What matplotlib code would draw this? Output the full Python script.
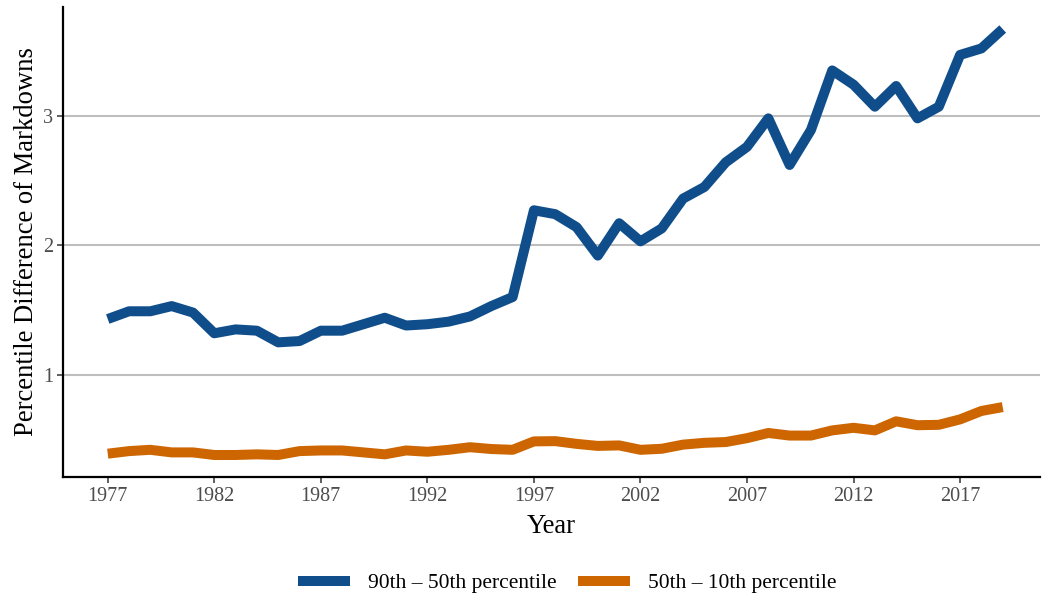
import numpy as np
import matplotlib.pyplot as plt

# -------------------------- Data --------------------------
years = list(range(1977, 2020))

# 90th - 50th percentile difference of markdowns
p90_p50 = [1.43, 1.49, 1.49, 1.53, 1.48, 1.32, 1.35, 1.34, 1.25, 1.26,
           1.34, 1.34, 1.39, 1.44, 1.38, 1.39, 1.41, 1.45, 1.53, 1.60,
           2.27, 2.24, 2.14, 1.92, 2.17, 2.03, 2.13, 2.36, 2.45, 2.64,
           2.76, 2.98, 2.62, 2.89, 3.35, 3.24, 3.07, 3.23, 2.98, 3.07,
           3.47, 3.52, 3.67]

# 50th - 10th percentile difference of markdowns
p50_p10 = [0.39, 0.41, 0.42, 0.40, 0.40, 0.38, 0.38, 0.385, 0.38, 0.41,
           0.415, 0.415, 0.40, 0.385, 0.415, 0.405, 0.42, 0.44, 0.426, 0.42,
           0.485, 0.487, 0.466, 0.45, 0.454, 0.42, 0.428, 0.46, 0.474, 0.48,
           0.51, 0.55, 0.53, 0.53, 0.57, 0.59, 0.57, 0.64, 0.61, 0.613,
           0.655, 0.72, 0.75]

series_labels = ["90th \u2013 50th percentile", "50th \u2013 10th percentile"]
x_ticks = list(range(1977, 2018, 5))
y_ticks = [1, 2, 3]

# -------------------------- Style --------------------------
plt.rcParams['font.family'] = ['Liberation Serif', 'DejaVu Serif']
BLUE = '#104E8B'
ORANGE = '#CD6600'

W, H = 1042, 598
fig = plt.figure(figsize=(W / 100, H / 100), dpi=100)
ax = fig.add_axes([63 / W, 1 - 477 / H, (1040 - 63) / W, (477 - 7) / H])

ax.plot(years, p90_p50, color=BLUE, lw=7.2, solid_capstyle='butt',
        solid_joinstyle='round', label=series_labels[0], zorder=3)
ax.plot(years, p50_p10, color=ORANGE, lw=7.2, solid_capstyle='butt',
        solid_joinstyle='round', label=series_labels[1], zorder=3)

ax.set_xlim(1974.9, 2020.75)
ax.set_ylim(0.21, 3.84)
ax.set_xticks(x_ticks)
ax.set_yticks(y_ticks)

ax.grid(axis='y', color='#BEBEBE', lw=1.5, zorder=0)
ax.grid(axis='x', visible=False)
for s in ['top', 'right']:
    ax.spines[s].set_visible(False)
for s in ['left', 'bottom']:
    ax.spines[s].set_linewidth(1.6)
    ax.spines[s].set_color('black')

ax.tick_params(axis='both', length=4, width=1.1, color='#333333',
               labelcolor='#4D4D4D', labelsize=14.5, pad=3)

ax.set_xlabel("Year", fontsize=19.2, labelpad=6)
ax.set_ylabel("Percentile Difference of Markdowns", fontsize=19.2, labelpad=3)

fig.legend(loc='center', bbox_to_anchor=(567.5 / W, 1 - 583 / H), ncol=2,
           frameon=False, fontsize=15.5, handlelength=2.4, handletextpad=0.85,
           columnspacing=1.0)

fig.savefig("out.png", dpi=100)
